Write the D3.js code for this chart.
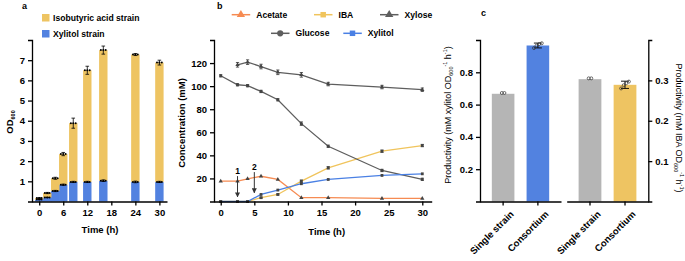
<!DOCTYPE html>
<html>
<head>
<meta charset="utf-8">
<script src="https://cdn.jsdelivr.net/npm/d3@7"></script>
<style>
  body { margin: 0; background: #fff; }
  svg { font-family: "Liberation Sans", Arial, sans-serif; }
  .axis path, .axis line { stroke: #000; stroke-width: 1.3; }
  .axis text { font-size: 9.5px; font-weight: bold; fill: #000; font-family: "Liberation Sans", Arial, sans-serif; }
</style>
</head>
<body>
<svg id="chart" width="685" height="261"></svg>
<script>
// ---- data: panel a (OD600 of each strain, stacked) ----
const timeA = [0, 2, 4, 6, 8.5, 12, 16, 24, 30];
const xylitolOD = [0.10, 0.20, 0.52, 0.83, 0.97, 0.97, 1.03, 0.97, 0.97];
const isobutyricOD = [0.07, 0.22, 0.63, 1.52, 2.91, 5.53, 6.47, 6.31, 5.91];
const totalSD = [0.02, 0.03, 0.05, 0.08, 0.25, 0.2, 0.2, 0.05, 0.12];
const xylitolSD = [0.01, 0.01, 0.03, 0.03, 0.03, 0.03, 0.04, 0.04, 0.03];
const ticksA = [0, 6, 12, 18, 24, 30];
const yTicksA = [1, 2, 3, 4, 5, 6, 7];

// ---- data: panel b (concentration, mM) ----
const timeB = [0, 2.5, 4, 6, 8.5, 12, 16, 24, 30];
const acetate = [17.6, 17.6, 19.7, 21.9, 19.1, 3.3, 3.3, 2.7, 2.7];
const iba = [0, 0, 0, 3.3, 6.1, 17.6, 29.2, 43.6, 48.5];
const xylose = [null, 118.5, 120.8, 117, 112, 109.8, 101.8, 99.2, 96.9];
const glucose = [109, 101.2, 100.4, 95.4, 88.2, 67.5, 47.9, 26.9, 19.2];
const xylitol = [0, 0, 0, 6.1, 9.9, 15.4, 19.1, 22.6, 24];
const xyloseSD = [null, 2, 2, 2, 2, 2, 1.5, 1.5, 1.5];
const glucoseSD = [1, 1, 1, 1, 1, 1.5, 1, 1, 1];
const ibaSD = [0, 0, 0, 0.5, 0.5, 1, 1, 1, 1];
const ticksB = [0, 5, 10, 15, 20, 25, 30];
const yTicksB = [20, 40, 60, 80, 100, 120];
const feedTimes = [2.5, 5];
const feedLabels = ["1", "2"];

// ---- data: panel c (productivity) ----
const strainGroups = ["Single strain", "Consortium"];
const xylitolProd = [0.667, 0.966];
const xylitolProdSD = [0, 0.015];
const xylitolReps = [[0.672, 0.672], [0.95, 0.965, 0.975, 0.98]];
const ibaProd = [0.303, 0.289];
const ibaProdSD = [0, 0.009];
const ibaReps = [[0.305, 0.305], [0.28, 0.288, 0.293, 0.297]];
const yTicksC1 = [0.2, 0.4, 0.6, 0.8];
const yTicksC2 = [0.1, 0.2, 0.3];

const yellow = "#EEC462", blue = "#5282E0", grey = "#B5B5B5";
const orange = "#F68B52", dark = "#5E5E5E", lineYellow = "#F0C45C", lineBlue = "#4A80E4";

const svg = d3.select("#chart");

// ================= panel a =================
const xA = d3.scaleLinear().domain([-1.8, 31.9]).range([32, 167]);
const yA = d3.scaleLinear().domain([0, 8]).range([201.5, 40]);
const gA = svg.append("g");
const barW = xA(2.1) - xA(0);

gA.selectAll(".barX").data(timeA).enter().append("rect")
  .attr("x", (d) => xA(d) - barW / 2)
  .attr("y", (d, i) => yA(xylitolOD[i]))
  .attr("width", barW)
  .attr("height", (d, i) => yA(0) - yA(xylitolOD[i]))
  .attr("fill", blue);

gA.selectAll(".barI").data(timeA).enter().append("rect")
  .attr("x", (d) => xA(d) - barW / 2)
  .attr("y", (d, i) => yA(xylitolOD[i] + isobutyricOD[i]))
  .attr("width", barW)
  .attr("height", (d, i) => yA(xylitolOD[i]) - yA(xylitolOD[i] + isobutyricOD[i]))
  .attr("fill", yellow);

// error bars and replicate dots
timeA.forEach((t, i) => {
  const cx = xA(t);
  [[xylitolOD[i], xylitolSD[i]], [xylitolOD[i] + isobutyricOD[i], totalSD[i]]].forEach(([m, s]) => {
    gA.append("line").attr("x1", cx).attr("x2", cx).attr("y1", yA(m - s)).attr("y2", yA(m + s))
      .attr("stroke", "#000").attr("stroke-width", 0.8);
    [m - s, m + s].forEach(v => gA.append("line").attr("x1", cx - 1.8).attr("x2", cx + 1.8)
      .attr("y1", yA(v)).attr("y2", yA(v)).attr("stroke", "#000").attr("stroke-width", 0.8));
    [-2.4, 0, 2.4].forEach(o => gA.append("circle").attr("cx", cx + o).attr("cy", yA(m)).attr("r", 1)
      .attr("fill", "#000"));
  });
});

gA.append("g").attr("class", "axis").attr("transform", "translate(32,0)")
  .call(d3.axisLeft(yA).tickValues(yTicksA).tickSize(4).tickPadding(3).tickFormat(d3.format("d")));
gA.append("g").attr("class", "axis").attr("transform", "translate(0,201.5)")
  .call(d3.axisBottom(xA).tickValues(ticksA).tickSize(4).tickSizeOuter(0).tickPadding(4));

gA.append("text").attr("x", 22).attr("y", 9).attr("font-size", 9).attr("font-weight", "bold").text("a");
const odLabel = gA.append("text").attr("transform", "translate(13,122) rotate(-90)")
  .attr("text-anchor", "middle").attr("font-size", 9.5).attr("font-weight", "bold");
odLabel.append("tspan").text("OD");
odLabel.append("tspan").attr("font-size", 5.5).attr("dy", 2).text("600");
gA.append("text").attr("x", 100).attr("y", 233).attr("text-anchor", "middle")
  .attr("font-size", 9.5).attr("font-weight", "bold").text("Time (h)");

// legend a
const legA = [["Isobutyric acid strain", yellow], ["Xylitol strain", blue]];
legA.forEach(([name, col], i) => {
  gA.append("rect").attr("x", 42).attr("y", 14 + i * 16).attr("width", 7.5).attr("height", 7.5).attr("fill", col);
  gA.append("text").attr("x", 53).attr("y", 20.5 + i * 16).attr("font-size", 8.6).attr("font-weight", "bold").text(name);
});

// ================= panel b =================
const xB = d3.scaleLinear().domain([-1, 31.4]).range([214, 431.7]);
const yB = d3.scaleLinear().domain([0, 140]).range([201.5, 40]);
const gB = svg.append("g");

const seriesB = [
  { name: "Acetate", vals: acetate, sd: null, color: orange, sym: d3.symbolTriangle },
  { name: "IBA", vals: iba, sd: ibaSD, color: lineYellow, sym: d3.symbolSquare },
  { name: "Xylose", vals: xylose, sd: xyloseSD, color: dark, sym: d3.symbolTriangle },
  { name: "Glucose", vals: glucose, sd: glucoseSD, color: dark, sym: d3.symbolCircle },
  { name: "Xylitol", vals: xylitol, sd: null, color: lineBlue, sym: d3.symbolSquare }
];

const line = d3.line().defined(d => d[1] != null).x(d => xB(d[0])).y(d => yB(d[1]));

seriesB.forEach(s => {
  const pts = timeB.map((t, i) => [t, s.vals[i], s.sd ? s.sd[i] : 0]);
  gB.append("path").datum(pts).attr("d", line).attr("fill", "none")
    .attr("stroke", s.color).attr("stroke-width", 1.3);
  pts.filter(p => p[1] != null).forEach(p => {
    if (p[2] > 0) {
      gB.append("line").attr("x1", xB(p[0])).attr("x2", xB(p[0]))
        .attr("y1", yB(p[1] - p[2])).attr("y2", yB(p[1] + p[2])).attr("stroke", "#333").attr("stroke-width", 0.8);
      [p[1] - p[2], p[1] + p[2]].forEach(v => gB.append("line").attr("x1", xB(p[0]) - 1.6).attr("x2", xB(p[0]) + 1.6)
        .attr("y1", yB(v)).attr("y2", yB(v)).attr("stroke", "#333").attr("stroke-width", 0.8));
    }
    gB.append("path").attr("d", d3.symbol().type(s.sym).size(8)())
      .attr("transform", `translate(${xB(p[0])},${yB(p[1])})`).attr("fill", "#444");
  });
});

// feeding arrows
const defs = svg.append("defs");
defs.append("marker").attr("id", "arr").attr("viewBox", "0 0 10 10").attr("refX", 9).attr("refY", 5)
  .attr("markerWidth", 5).attr("markerHeight", 5).attr("orient", "auto")
  .append("path").attr("d", "M0,0L10,5L0,10z").attr("fill", "#333");
feedTimes.forEach((t, i) => {
  const top = i === 0 ? 22 : 25.5;
  gB.append("line").attr("x1", xB(t)).attr("x2", xB(t)).attr("y1", yB(top)).attr("y2", yB(top - 18))
    .attr("stroke", "#333").attr("stroke-width", 1).attr("marker-end", "url(#arr)");
  gB.append("text").attr("x", xB(t)).attr("y", yB(top + 1.5)).attr("text-anchor", "middle")
    .attr("font-size", 8.5).attr("font-weight", "bold").text(feedLabels[i]);
});

gB.append("g").attr("class", "axis").attr("transform", "translate(214,0)")
  .call(d3.axisLeft(yB).tickValues(yTicksB).tickSize(4).tickPadding(3));
gB.append("g").attr("class", "axis").attr("transform", "translate(0,201.5)")
  .call(d3.axisBottom(xB).tickValues(ticksB).tickSize(4).tickSizeOuter(0).tickPadding(4));

gB.append("text").attr("x", 217).attr("y", 9).attr("font-size", 9).attr("font-weight", "bold").text("b");
gB.append("text").attr("transform", "translate(185,123) rotate(-90)").attr("text-anchor", "middle")
  .attr("font-size", 9.5).attr("font-weight", "bold").text("Concentration (mM)");
gB.append("text").attr("x", 326.7).attr("y", 235).attr("text-anchor", "middle")
  .attr("font-size", 9.5).attr("font-weight", "bold").text("Time (h)");

// legend b
const legPos = [[231.7, 14.7], [314, 14.7], [380, 14.7], [271, 33.3], [343.3, 33.3]];
seriesB.forEach((s, i) => {
  const [lx, ly] = legPos[i];
  gB.append("line").attr("x1", lx).attr("x2", lx + 18.5).attr("y1", ly).attr("y2", ly)
    .attr("stroke", s.color).attr("stroke-width", 1.5);
  gB.append("path").attr("d", d3.symbol().type(s.sym).size(30)())
    .attr("transform", `translate(${lx + 9.2},${ly})`).attr("fill", s.color);
  gB.append("text").attr("x", lx + 24.5).attr("y", ly + 3).attr("font-size", 8.6)
    .attr("font-weight", "bold").text(s.name);
});

// ================= panel c =================
const gC = svg.append("g");
const yC1 = d3.scaleLinear().domain([0, 1]).range([201.5, 40]);
const yC2 = d3.scaleLinear().domain([0, 0.4]).range([201.5, 40]);
const xC1 = d3.scaleBand().domain(strainGroups).range([480, 561]).paddingInner(0.35).paddingOuter(0.34);
const xC2 = d3.scaleBand().domain(strainGroups).range([566.7, 648.3]).paddingInner(0.35).paddingOuter(0.34);

function productivityBars(xs, ys, vals, sds, reps, colors) {
  gC.selectAll(null).data(strainGroups).enter().append("rect")
    .attr("x", d => xs(d)).attr("y", (d, i) => ys(vals[i]))
    .attr("width", xs.bandwidth()).attr("height", (d, i) => ys(0) - ys(vals[i]))
    .attr("fill", (d, i) => colors[i]);
  strainGroups.forEach((g, i) => {
    const cx = xs(g) + xs.bandwidth() / 2;
    if (sds[i] > 0) {
      gC.append("line").attr("x1", cx).attr("x2", cx).attr("y1", ys(vals[i] - sds[i])).attr("y2", ys(vals[i] + sds[i]))
        .attr("stroke", "#000").attr("stroke-width", 0.9);
      [vals[i] - sds[i], vals[i] + sds[i]].forEach(v => gC.append("line").attr("x1", cx - 4).attr("x2", cx + 4)
        .attr("y1", ys(v)).attr("y2", ys(v)).attr("stroke", "#000").attr("stroke-width", 0.9));
    }
    const n = reps[i].length;
    reps[i].forEach((v, j) => gC.append("circle")
      .attr("cx", cx + (j - (n - 1) / 2) * 2.6).attr("cy", ys(v)).attr("r", 1.5)
      .attr("fill", "none").attr("stroke", "#333").attr("stroke-width", 0.7));
  });
}
productivityBars(xC1, yC1, xylitolProd, xylitolProdSD, xylitolReps, [grey, blue]);
productivityBars(xC2, yC2, ibaProd, ibaProdSD, ibaReps, [grey, yellow]);

gC.append("g").attr("class", "axis").attr("transform", "translate(480,0)")
  .call(d3.axisLeft(yC1).tickValues(yTicksC1).tickSize(4).tickPadding(3).tickFormat(d3.format(".1f")));
gC.append("g").attr("class", "axis").attr("transform", "translate(648.3,0)")
  .call(d3.axisRight(yC2).tickValues(yTicksC2).tickSize(4).tickPadding(3).tickFormat(d3.format(".1f")));
[xC1, xC2].forEach(xs => {
  const ax = gC.append("g").attr("class", "axis").attr("transform", "translate(0,201.5)")
    .call(d3.axisBottom(xs).tickSize(4).tickSizeOuter(0).tickPadding(3));
  ax.selectAll("text").attr("text-anchor", "end").attr("dy", "0.35em")
    .attr("transform", "translate(4,6) rotate(-45)");
});

gC.append("text").attr("x", 481).attr("y", 16).attr("font-size", 9).attr("font-weight", "bold").text("c");

const lab1 = gC.append("text").attr("transform", "translate(451,115) rotate(-90)").attr("text-anchor", "middle")
  .attr("font-size", 9);
lab1.append("tspan").text("Productivity (mM xylitol OD");
lab1.append("tspan").attr("font-size", 5.5).attr("dy", 2).text("600");
lab1.append("tspan").attr("font-size", 5.5).attr("dy", -6).text("-1");
lab1.append("tspan").attr("dy", 4).text(" h");
lab1.append("tspan").attr("font-size", 5.5).attr("dy", -4).text("-1");
lab1.append("tspan").attr("dy", 4).text(")");

const lab2 = gC.append("text").attr("transform", "translate(676,128) rotate(90)").attr("text-anchor", "middle")
  .attr("font-size", 9);
lab2.append("tspan").text("Productivity (mM IBA OD");
lab2.append("tspan").attr("font-size", 5.5).attr("dy", 2).text("600");
lab2.append("tspan").attr("font-size", 5.5).attr("dy", -6).text("-1");
lab2.append("tspan").attr("dy", 4).text(" h");
lab2.append("tspan").attr("font-size", 5.5).attr("dy", -4).text("-1");
lab2.append("tspan").attr("dy", 4).text(")");
</script>
</body>
</html>
